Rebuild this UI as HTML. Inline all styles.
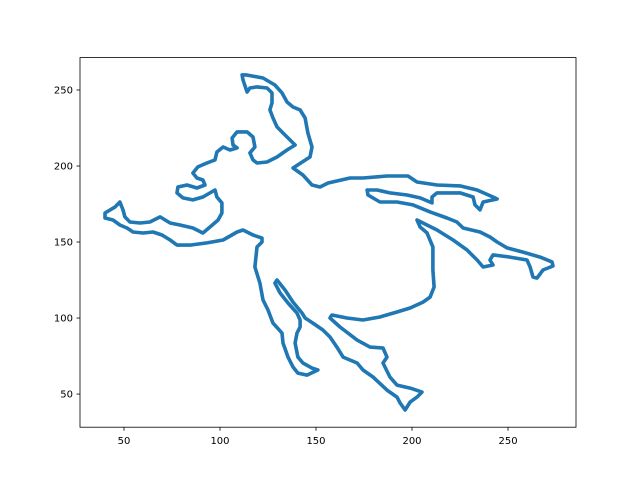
<!DOCTYPE html>
<html><head><meta charset="utf-8"><style>
body{margin:0;background:#fff}
text{font-family:"DejaVu Sans","Liberation Sans",sans-serif;font-size:10px;fill:#000}
</style></head><body>
<svg id="chart" width="640" height="480">
<rect x="0" y="0" width="640" height="480" fill="#fff"/>
<g id="plot"></g>
<rect x="80" y="57.6" width="496" height="369.6" fill="none" stroke="#000" stroke-width="0.8"/>
<g id="axes"></g>
</svg>
<script>
const xs = [111.5,113.5,116.7,122.4,128.6,132.3,134.9,138,141.7,144.3,145.8,147.9,146.9,138,143.2,147.9,152.1,156.3,167.7,174.5,187,197.9,202.6,213,225,233.9,242.2,244.3,237,235.4,232.8,231.8,225,213,210.4,210.4,204.2,197.4,188.5,181.8,176.6,177.1,183.3,192.2,200.5,209.4,218.2,223.4,226.6,235.4,240.6,244.3,249.5,257.8,266.7,272.9,273.4,268.2,265.1,263,261.5,259.9,251,242.2,240.6,242.2,237,233.9,228.6,221.4,213,205.7,202.6,204.2,207.8,210.9,210.9,211.5,209.4,205.7,199,192.2,183.3,174.5,166.1,158.3,157.3,162.5,171.4,178.1,184.9,187,184.9,188.5,192.2,199,205.2,202.6,199,196.4,193.8,192.2,187,179.7,174.5,171.4,164.1,160.9,157.3,153.6,148.4,144.3,142.7,138,133.9,129.7,128.6,131.3,135.4,140.1,141.7,141.7,140.1,139.1,140.6,143.2,147.9,151,145.3,140.6,138,135.4,132.8,132.3,127.6,125,122.4,120.8,118.2,119.3,121.9,121.9,117.2,112,108.9,101.6,93.2,84.4,77.6,74,69.8,65.1,59.9,54.7,51.6,47.9,44.3,40.1,40.1,45.3,47.9,49.5,50.5,53.1,58.3,63.5,68.8,74,79.2,85.9,91.1,94.8,99,101,101,98.4,97.4,91.1,85.9,80.7,77.6,78.1,82.8,88,92.2,91.1,88,85.9,88.5,93.2,97.4,98.4,101.6,105.2,108.9,106.8,106.3,108.9,114.1,117.2,118.2,115.6,117.2,119.3,124.5,129.7,134.9,139.1,136.5,132.8,129.7,127.6,126,127.1,127.1,124.5,119.3,115.6,114.1,112];
const ys = [259.9,259.9,259.2,257.9,253.3,248.1,242.1,238.8,236.9,231.6,221.7,212.5,205.9,198.7,194.1,187.5,186.2,188.8,192.1,192.1,193.4,193.4,189.5,187.5,186.9,184.2,179.6,178.3,176.3,171.1,174.4,179.6,182.3,182.3,179.6,175.7,179,180.9,182.3,184.2,184.2,180.9,176.3,176.3,174.4,169.8,165.8,163.2,159.2,156.6,153.3,150,146.1,143.4,140.1,136.9,134.2,131.6,126.3,127,133.6,138.2,140.1,141.5,138.2,134.9,133.6,138.2,144.8,151.3,157.9,162.5,164.5,159.9,156,146.7,131.6,120.4,113.8,110.5,106.6,104,100.7,98.7,100,102,100,94.1,85.5,80.9,80.3,74.3,70.4,61.2,55.9,53.9,51.3,48,44.7,39.5,44.1,48,52.6,61.2,65.8,70.4,74.3,80.9,87.5,92.1,96.7,100,103.3,110.5,118.4,125,123,116.5,109.9,103.3,98.7,94.1,90.1,83.6,74.3,70.4,67.1,65.8,62.5,63.8,67.8,74.3,83.6,90.1,96.7,105.3,111.9,123,133.6,146.7,150,152.6,154.6,157.9,156.6,151.3,149.4,148,148,151.3,154.6,156.6,155.9,156.6,159.2,161.2,164.5,165.8,169.1,173,176.3,171.1,166.5,163.2,162.5,163.2,166.5,162.5,161.2,159.2,155.9,159.9,164.5,169.1,175.7,179.6,184.2,179.6,177.7,179,182.3,186.2,187.5,185.5,187.5,190.8,192.1,195.4,199.4,202,204,209.2,212.5,210.5,211.9,213.8,218.4,222.4,222.4,219.1,212.5,208.6,204,202,202.6,205.9,210.5,213.8,217.1,221.7,225.7,231.6,236.9,241.5,248.1,251.3,252,251.3,248.7,256.6];
const xTicks = [50,100,150,200,250];
const yTicks = [50,100,150,200,250];

const NS='http://www.w3.org/2000/svg';
const X0=27.1, X1=285.4, Y0=28.2, Y1=271.3;
function sx(v){return 80+(v-X0)/(X1-X0)*496;}
function sy(v){return 427.2-(v-Y0)/(Y1-Y0)*369.6;}
const plot=document.getElementById('plot');
const pl=document.createElementNS(NS,'polygon');
pl.setAttribute('points',xs.map((x,i)=>sx(x).toFixed(1)+','+sy(ys[i]).toFixed(1)).join(' '));
pl.setAttribute('fill','none');pl.setAttribute('stroke','#1f77b4');
pl.setAttribute('stroke-width','3.6');pl.setAttribute('stroke-linejoin','round');


plot.appendChild(pl);
const ax=document.getElementById('axes');
xTicks.forEach(t=>{
  const x=sx(t);
  const l=document.createElementNS(NS,'line');
  l.setAttribute('x1',x);l.setAttribute('x2',x);l.setAttribute('y1',427.2);l.setAttribute('y2',430.7);l.setAttribute('stroke','#000');l.setAttribute('stroke-width','0.8');
  
  
  ax.appendChild(l);
  const tx=document.createElementNS(NS,'text');
  tx.setAttribute('x',x);tx.setAttribute('y',444);tx.setAttribute('text-anchor','middle');tx.textContent=t;
  
  
  ax.appendChild(tx);
});
yTicks.forEach(t=>{
  const y=sy(t);
  const l=document.createElementNS(NS,'line');
  l.setAttribute('x1',76.5);l.setAttribute('x2',80);l.setAttribute('y1',y);l.setAttribute('y2',y);l.setAttribute('stroke','#000');l.setAttribute('stroke-width','0.8');
  
  
  ax.appendChild(l);
  const tx=document.createElementNS(NS,'text');
  tx.setAttribute('x',73);tx.setAttribute('y',y+3.6);tx.setAttribute('text-anchor','end');tx.textContent=t;
  
  
  ax.appendChild(tx);
});
</script>
</body></html>
